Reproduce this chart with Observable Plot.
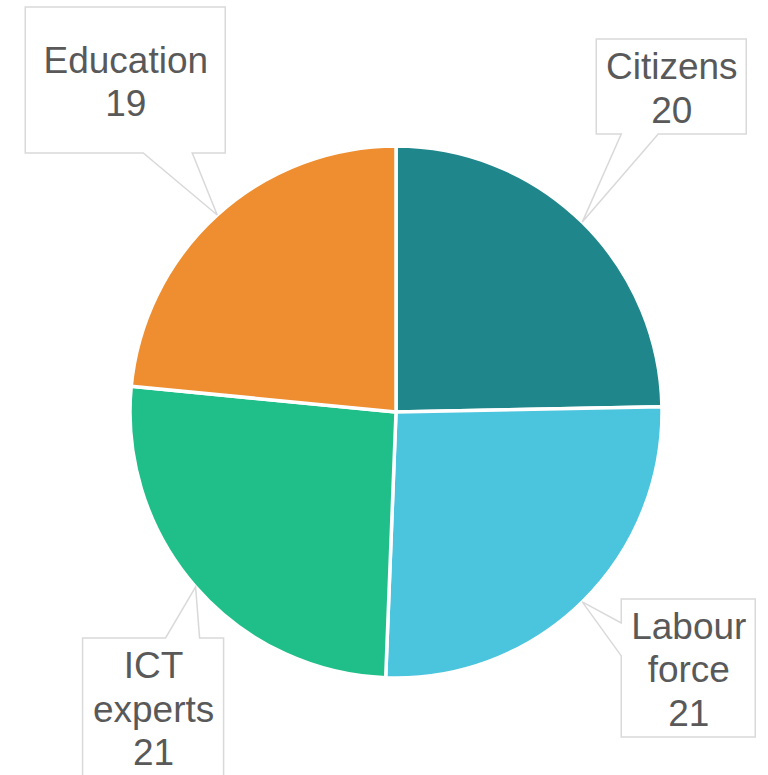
<!DOCTYPE html>
<html><head><meta charset="utf-8">
<script src="https://cdn.jsdelivr.net/npm/d3@7"></script>
<script src="https://cdn.jsdelivr.net/npm/@observablehq/plot@0.6"></script>
<style>html,body{margin:0;padding:0;background:#fff;overflow:hidden}#chart svg{display:block}</style>
</head><body><div id="chart"></div>
<script>
// ---- data ----
const categories = ["Citizens", "Labour force", "ICT experts", "Education"];
const values = [20, 21, 21, 19];
const labelLines = ["Citizens", "Labour\nforce", "ICT\nexperts", "Education"];
const colors = ["#1f868b", "#4bc4de", "#20bf89", "#ee8e30"];

// ---- layout (pixels) ----
const W = 768, H = 775, CX = 396, CY = 412, R = 266;
// callout boxes relative to the leader tip (at slice mid-angle on the rim)
const callouts = [
  {edge: "bottom", box: [14, -183, 164, -88], base: [39, 76]},
  {edge: "left",   box: [39, -3, 173, 135],   base: [21, 54]},
  {edge: "top",    box: [-113, 51, 28, 190],  base: [-30, 4]},
  {edge: "bottom", box: [-192, -208, 8, -62], base: [-74, -25]}
];

const arcs = d3.pie().sort(null).value(d => d)(values);
const data = arcs.map((a, i) => {
  const m = (a.startAngle + a.endAngle) / 2;
  const tx = R * Math.sin(m), ty = -R * Math.cos(m);
  const c = callouts[i];
  return {
    category: categories[i], value: values[i],
    label: labelLines[i] + "\n" + values[i],
    arc: a, color: colors[i], tx, ty,
    x0: tx + c.box[0], y0: ty + c.box[1], x1: tx + c.box[2], y1: ty + c.box[3],
    edge: c.edge, b1: c.base[0], b2: c.base[1]
  };
});

function slicesMark(index, scales) {
  const {x, y} = scales;
  const r = Math.abs(x(R) - x(0));
  const arc = d3.arc().innerRadius(0).outerRadius(r);
  const g = d3.create("svg:g").attr("transform", `translate(${x(0)},${y(0)})`);
  g.selectAll("path").data(data).join("path")
    .attr("d", d => arc(d.arc))
    .attr("fill", d => d.color)
    .attr("stroke", "#fff")
    .attr("stroke-width", 3.5)
    .attr("stroke-linejoin", "round");
  return g.node();
}

function calloutMark(index, scales) {
  const {x, y} = scales;
  const g = d3.create("svg:g");
  g.selectAll("path").data(data).join("path")
    .attr("d", d => {
      let pts;
      const {x0, y0, x1, y1, tx, ty, b1, b2} = d;
      if (d.edge === "bottom") pts = [[x0,y0],[x1,y0],[x1,y1],[tx+b2,y1],[tx,ty],[tx+b1,y1],[x0,y1]];
      else if (d.edge === "left") pts = [[x0,y0],[x1,y0],[x1,y1],[x0,y1],[x0,ty+b2],[tx,ty],[x0,ty+b1]];
      else pts = [[x0,y0],[tx+b1,y0],[tx,ty],[tx+b2,y0],[x1,y0],[x1,y1],[x0,y1]];
      return "M" + pts.map(p => `${x(p[0])},${y(p[1])}`).join("L") + "Z";
    })
    .attr("fill", "#fff")
    .attr("stroke", "#d9d9d9")
    .attr("stroke-width", 1.5);
  return g.node();
}

const chart = Plot.plot({
  width: W, height: H, margin: 0,
  x: {domain: [-CX, W - CX], range: [0, W], axis: null},
  y: {domain: [-CY, H - CY], range: [0, H], axis: null},
  style: {fontFamily: "'Liberation Sans', Arial, sans-serif", background: "#fff"},
  marks: [
    slicesMark,
    calloutMark,
    Plot.text(data, {
      x: d => (d.x0 + d.x1) / 2,
      y: d => (d.y0 + d.y1) / 2,
      text: "label",
      fontSize: 37, lineHeight: 1.17,
      fill: "#595959",
      fontFamily: "'Liberation Sans', Arial, sans-serif",
      textAnchor: "middle", lineAnchor: "middle"
    })
  ]
});
document.getElementById("chart").appendChild(chart);
</script>
</body></html>
